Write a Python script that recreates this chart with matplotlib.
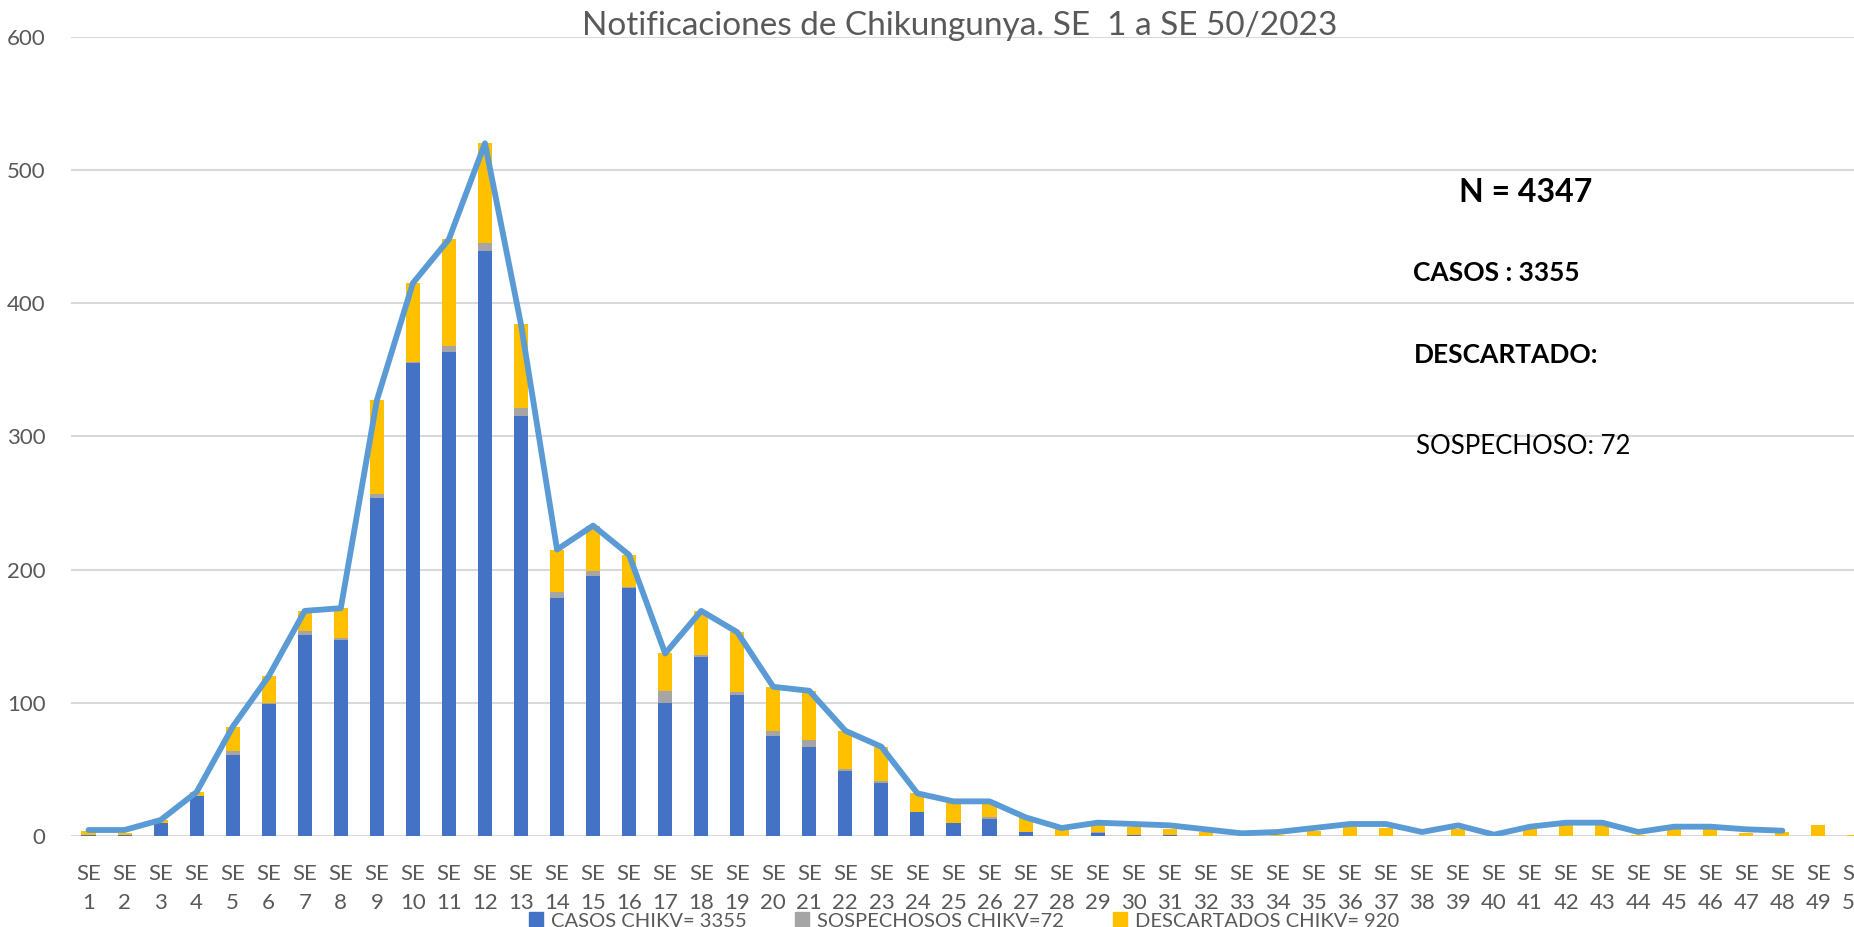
import numpy as np
import matplotlib.pyplot as plt
from matplotlib.patches import Patch

# semanas epidemiologicas
semanas = list(range(1, 51))
etiquetas = ["SE\n%d" % s for s in semanas]

# casos confirmados (azul)
casos = [1, 1, 10, 30, 61, 99, 151, 147, 254, 355,
         363, 439, 315, 179, 195, 186, 100, 134, 106, 75,
         67, 49, 40, 18, 10, 13, 3, 0, 2, 1,
         1, 0, 0, 0, 0, 0, 0, 0, 0, 0,
         0, 0, 0, 0, 0, 0, 0, 0, 0, 0]

# sospechosos (gris)
sospechosos = [0, 0, 0, 0, 3, 1, 3, 2, 3, 1,
               5, 6, 6, 4, 4, 1, 9, 2, 2, 4,
               5, 1, 1, 0, 0, 1, 0, 0, 1, 0,
               0, 0, 0, 0, 0, 0, 0, 0, 0, 0,
               0, 0, 0, 0, 0, 0, 0, 0, 0, 0]

# descartados (amarillo)
descartados = [3, 1, 2, 3, 18, 20, 15, 22, 70, 59,
               80, 75, 63, 32, 34, 24, 28, 33, 45, 33,
               37, 29, 26, 14, 16, 12, 11, 6, 6, 6,
               4, 3, 0, 1, 4, 7, 6, 0, 5, 0,
               5, 8, 8, 1, 5, 5, 2, 3, 8, 0.5]

# total notificaciones (linea), sin dato en SE 49 y 50
total = [4.5, 4.5, 12, 33, 82, 120, 169, 171, 327, 415,
         448, 520, 384, 215, 233, 211, 137, 169, 153, 112,
         109, 79, 67, 32, 26, 26, 14, 6, 10, 9,
         8, 5, 2, 3, 6, 9, 9, 3, 8, 1,
         7, 10, 10, 3, 7, 7, 5, 4, np.nan, np.nan]

azul = '#4472C4'
gris = '#A5A5A5'
amarillo = '#FFC000'
linea = '#5B9BD5'
texto = '#595959'

plt.rcParams['font.family'] = ['Lato', 'DejaVu Sans']

fig = plt.figure(figsize=(18.54, 9.27), dpi=100)
ax = fig.add_axes([70.5 / 1854, 91 / 927, 1802 / 1854, 799.3 / 927])

x = np.array(semanas)
w = 0.39
casos_a = np.array(casos, dtype=float)
sosp_a = np.array(sospechosos, dtype=float)
desc_a = np.array(descartados, dtype=float)

ax.bar(x, casos_a, w, color=azul, zorder=2)
ax.bar(x, sosp_a, w, bottom=casos_a, color=gris, zorder=2)
ax.bar(x, desc_a, w, bottom=casos_a + sosp_a, color=amarillo, zorder=2)
ax.plot(x, total, color=linea, lw=4.2, zorder=3,
        solid_joinstyle='round', solid_capstyle='round')

ax.set_xlim(0.5, 50.5)
ax.set_ylim(0, 600)
ax.set_yticks(range(0, 601, 100))
ax.yaxis.grid(True, color='#D9D9D9', lw=1.5, zorder=0)
ax.set_axisbelow(True)
for s in ax.spines.values():
    s.set_visible(False)
ax.set_xticks(x)
ax.set_xticklabels(etiquetas, linespacing=1.6)
ax.tick_params(axis='both', length=0, labelsize=16, labelcolor=texto)
ax.tick_params(axis='x', pad=20)
ax.tick_params(axis='y', pad=18)

fig.text(960 / 1854, 1 - 26 / 927, 'Notificaciones de Chikungunya. SE  1 a SE 50/2023',
         ha='center', va='center', fontsize=24, color=texto)

fig.text(1459 / 1854, 1 - 192 / 927, 'N = 4347', ha='left', va='center',
         fontsize=23, fontweight='bold', color='black')
fig.text(1413 / 1854, 1 - 273 / 927, 'CASOS : 3355', ha='left', va='center',
         fontsize=19, fontweight='bold', color='black')
fig.text(1414 / 1854, 1 - 355 / 927, 'DESCARTADO:', ha='left', va='center',
         fontsize=19, fontweight='bold', color='black')
fig.text(1416 / 1854, 1 - 447 / 927, 'SOSPECHOSO: 72', ha='left', va='center',
         fontsize=18.5, color='black')

handles = [Patch(color=azul), Patch(color=gris), Patch(color=amarillo)]
nombres = ['CASOS CHIKV= 3355', 'SOSPECHOSOS CHIKV=72', 'DESCARTADOS CHIKV= 920']
leg = fig.legend(handles, nombres, loc='center', bbox_to_anchor=(964 / 1854, 1 - 921 / 927),
                 ncol=3, frameon=False, fontsize=14.5, handlelength=0.7, handleheight=0.7,
                 handletextpad=0.4, columnspacing=2.4)
for t in leg.get_texts():
    t.set_color(texto)

fig.savefig('out.png', dpi=100)
